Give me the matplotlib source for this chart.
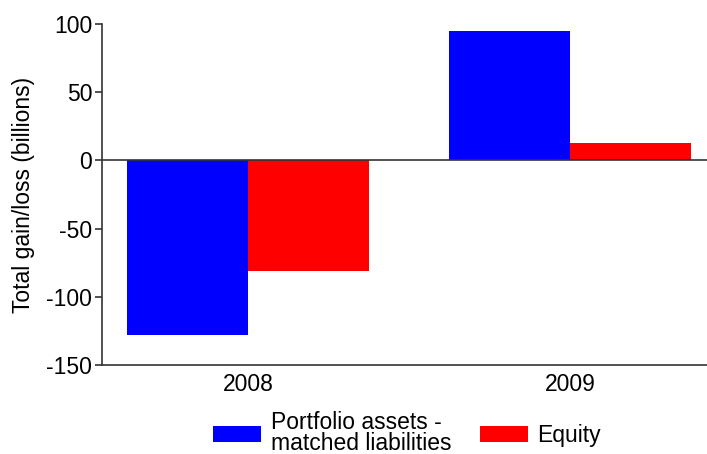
import matplotlib
matplotlib.use("Agg")
import matplotlib.pyplot as plt
import numpy as np

plt.rcParams['font.family'] = ['Liberation Sans', 'DejaVu Sans']

years = ["2008", "2009"]
series_names = ["Portfolio assets -\nmatched liabilities", "Equity"]
portfolio = [-128, 95]
equity = [-81, 13]
colors = ["#0000ff", "#ff0000"]
yticks = [-150, -100, -50, 0, 50, 100]

fs = 16.5
fig = plt.figure(figsize=(7.07, 4.54), dpi=100)
ax = fig.add_axes([102/707, 1-365/454, 1-102/707, (365-24)/454])

x = np.arange(len(years))
w = 0.375
ax.bar(x - w/2, portfolio, w, color=colors[0], label=series_names[0])
ax.bar(x + w/2, equity, w, color=colors[1], label=series_names[1])

ax.axhline(0, color="#333333", lw=1.2, zorder=3)
ax.set_xlim(-0.453, 1.425)
ax.set_ylim(-150, 100)
ax.set_yticks(yticks)
ax.set_yticklabels([str(v) for v in yticks])
ax.set_xticks(x)
ax.set_xticklabels(years)
ax.tick_params(axis='x', length=0, labelsize=fs, pad=6)
ax.tick_params(axis='y', length=5, labelsize=fs, color="#333333", width=1.2, pad=2)
for s in ["top", "right"]:
    ax.spines[s].set_visible(False)
for s in ["left", "bottom"]:
    ax.spines[s].set_color("#333333")
    ax.spines[s].set_linewidth(1.2)
ax.set_ylabel("Total gain/loss (billions)", fontsize=fs, labelpad=8)

leg = fig.legend(loc="center", bbox_to_anchor=(407/707, 1-433/454), ncol=2,
                 frameon=False, fontsize=fs, handlelength=2.1, handleheight=0.74,
                 columnspacing=1.25, handletextpad=0.42, labelspacing=0.1)
for t in leg.get_texts():
    t.set_linespacing(0.92)

fig.savefig("out.png", dpi=100)
